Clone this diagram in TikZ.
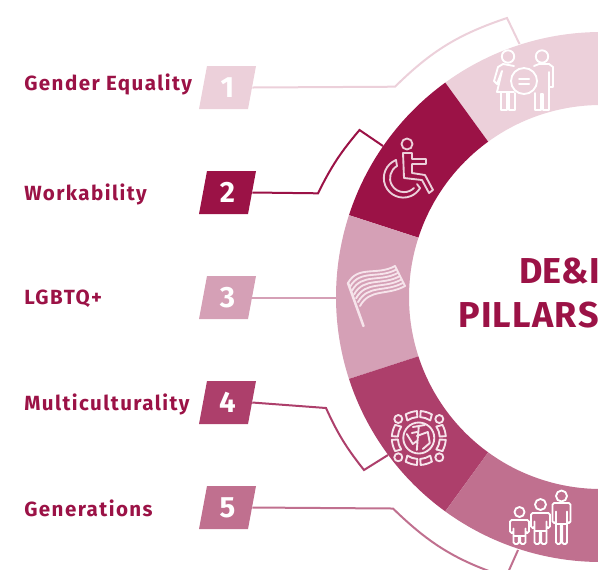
\documentclass[tikz,border=0pt]{standalone}
\usepackage{fontspec}
\setmainfont{Fira Sans}[LetterSpace=7]
\newfontfamily\titlefont{Fira Sans}[LetterSpace=0]
\newfontfamily\titlewide{Fira Sans}[LetterSpace=3.5]
\newfontfamily\numfont{Fira Sans}[LetterSpace=0]
\usetikzlibrary{calc}
\definecolor{cone}{HTML}{ECD0DA}
\definecolor{ctwo}{HTML}{9B1246}
\definecolor{cthree}{HTML}{D5A0B6}
\definecolor{cfour}{HTML}{AD3F6B}
\definecolor{cfive}{HTML}{C0708F}
\definecolor{cglyph}{HTML}{F6E4EB}
\tikzset{
  pillarlabel/.style={anchor=base west,inner sep=0pt,text=ctwo,font=\fontsize{15.4}{18}\selectfont\bfseries},
  pillartitle/.style={anchor=base west,inner sep=0pt,text=ctwo,font=\titlefont\fontsize{27}{30}\selectfont\bfseries},
  pillartitlewide/.style={anchor=base west,inner sep=0pt,text=ctwo,font=\titlewide\fontsize{27}{30}\selectfont\bfseries},
  numbox/.style={inner sep=0pt,minimum width=36.75pt,minimum height=32pt,text=white,font=\numfont\fontsize{22}{24}\selectfont\bfseries},
  link/.style={line width=1.5pt,line join=miter},
  icon/.style={line width=1.4pt,line cap=round,line join=round,draw=#1},
  icon/.default=white
}
\newcommand\ringseg[3]{\fill[#1] ($(C)+(#2:265)$) arc[start angle=#2,end angle=#3,radius=265] -- ($(C)+(#3:192)$) arc[start angle=#3,end angle=#2,radius=192] -- cycle;}
\newcommand\pillarbox[4]{%
  \fill[#3] (207,#2-21.5) -- (256,#2-21.5) -- (248,#2+21.5) -- (199,#2+21.5) -- cycle;
  \node[numbox] (#1) at (227.5,#2) {#4};}
\newcommand\person[8]{% cx headY headR shoulderY halfW armBottom hipY footY
  \draw (#1,#2) circle[radius=#3];
  \draw[rounded corners=1.2pt] (#1-#5+3.5,#8-0) -- (#1-#5+3.5,#4+7) -- (#1-#5+3.5,#6) -- (#1-#5,#6) -- (#1-#5,#4) -- (#1+#5,#4) -- (#1+#5,#6) -- (#1+#5-3.5,#6) -- (#1+#5-3.5,#4+7) -- (#1+#5-3.5,#8) -- (#1+.7,#8) -- (#1+.7,#7) -- (#1-.7,#7) -- (#1-.7,#8) -- cycle;
  \draw (#1-#5+3.5,#7) -- (#1+#5-3.5,#7);
}
\begin{document}
\begin{tikzpicture}[x=.75pt,y=.75pt,yscale=-1]
\useasboundingbox (0,0) rectangle (598,569);
\clip (0,0) rectangle (598,569);
\coordinate (C) at (601,297);
% ring
\ringseg{cone}{234}{300}
\ringseg{ctwo}{198}{234}
\ringseg{cthree}{162}{198}
\ringseg{cfour}{126}{162}
\ringseg{cfive}{70}{126}
% labelled boxes
\pillarbox{b1}{87.5}{cone}{1}
\pillarbox{b2}{192.5}{ctwo}{2}
\pillarbox{b3}{297.5}{cthree}{3}
\pillarbox{b4}{402.5}{cfour}{4}
\pillarbox{b5}{507.5}{cfive}{5}
% labels
\node[pillarlabel] (t1) at (24,90.7) {Gender Equality};
\node[pillarlabel] (t2) at (24,200) {Workability};
\node[pillarlabel] (t3) at (24,304) {LGBTQ+};
\node[pillarlabel] (t4) at (24,410.7) {Multiculturality};
\node[pillarlabel] (t5) at (24,516.7) {Generations};
\node[pillartitle] (title1) at (519,283) {DE\&I};
\node[pillartitlewide] (title2) at (458,327) {PILLARS};
% connector joints
\coordinate (j1a) at (395,86.7); \coordinate (j1b) at (507,18); \coordinate (j1c) at (519.5,44);
\coordinate (j2a) at (318,193.3); \coordinate (j2b) at (359.5,130); \coordinate (j2c) at (383,146);
\coordinate (j3c) at (337,297.5);
\coordinate (j4a) at (326,408); \coordinate (j4b) at (364,470); \coordinate (j4c) at (388,455);
\coordinate (j5a) at (393,508.5); \coordinate (j5b) at (506,577); \coordinate (j5c) at (518,550);
\draw[link,cone] (b1.east) -- (j1a) to[bend right=13] (j1b) -- (j1c);
\draw[link,ctwo] (b2.east) -- (j2a) to[bend right=7] (j2b) -- (j2c);
\draw[link,cthree] (b3.east) -- (j3c);
\draw[link,cfour] (b4.east) -- (j4a) to[bend left=7] (j4b) -- (j4c);
\draw[link,cfive] (b5.east) -- (j5a) to[bend left=13] (j5b) -- (j5c);
% icon 1
\begin{scope}[icon=white]
\draw (508,56.5) circle[radius=6.2];
\draw (542,56.5) circle[radius=6.2];
\draw (514,66) -- (503,64) -- (498,67) -- (494,81) -- (497,84) -- (502,71) -- (497,92) -- (514,92);
\draw (501,92) -- (501,110) -- (507,110) -- (507,93);
\draw (509,93) -- (509,110) -- (515,110) -- (515,93);
\draw (534,66) -- (539,64) -- (549,64) -- (553,67) -- (553,87) -- (549,87) -- (549,72);
\draw (535,93) -- (535,110) -- (541,110) -- (541,94) -- (543,94) -- (543,110) -- (549,110) -- (549,87);
\draw (524,81) circle[radius=13];
\draw[line width=1.5pt] (519,78.5) -- (529,78.5) (519,83.5) -- (529,83.5);
\end{scope}
% icon 2
\begin{scope}[icon=cone]
\draw (407,144) circle[radius=5.5];
\draw (403,153) -- (412,153) -- (412,159) -- (426,159) -- (426,164) -- (412,164) -- (412,173) -- (425,175) -- (433,190) -- (429,193) -- (422,180) -- (404,178) -- cycle;
\draw (396,160) arc[start angle=248,end angle=31,radius=19.5] -- ++(-3,-4);
\draw (397,166) arc[start angle=240,end angle=45,radius=14];
\draw (396,160) -- (397,166);
\end{scope}
% icon 3
\begin{scope}[icon=cglyph]
\draw[line width=1.9pt] (348,283) -- (363.5,326);
\foreach \t in {0,.167,.333,.5,.667,.833,1}
  \draw[line width=1.4pt] (348+12*\t,283+23*\t) .. controls +(10,-18) and +(-18,10) .. (395+10*\t,266+20*\t);
\draw (395,266) -- (405,286);
\end{scope}
% icon 4
\begin{scope}[icon=cglyph,shift={(418.8,438)}]
\foreach \x/\y in {-20.5/-19,20.5/-19,-20.5/19.3,20.5/19.3}
  \draw (\x,\y) circle[radius=4];
\foreach \a in {45,135,225,315}{
  \draw (\a+16:27) arc[start angle=\a+16,end angle=\a+41,radius=27];
  \draw (\a-16:27) arc[start angle=\a-16,end angle=\a-41,radius=27];
  \draw (\a+12:21) arc[start angle=\a+12,end angle=\a+41,radius=21];
  \draw (\a-12:21) arc[start angle=\a-12,end angle=\a-41,radius=21];
  \draw (\a+16:27) -- (\a+12:21) (\a-16:27) -- (\a-12:21);
  \draw (\a+41:27) -- (\a+41:21) (\a-41:27) -- (\a-41:21);
}
\draw (0,0) circle[radius=15.5];
\draw (-6,-11) -- (6,-13) (0,-12) -- (-2,12) (-2,-2) -- (9,-6) -- (11,5) -- (4,11) (-12,-4) -- (-6,6) -- (-2,3) (-7,-5) -- (-2,-6);
\end{scope}
% icon 5
\begin{scope}[icon=white]
\person{519.5}{512}{5}{520}{9.5}{533}{536}{544}
\person{540.5}{504.5}{5.5}{513}{9.5}{528}{531}{544}
\person{561.5}{496}{5.5}{503}{9}{523}{524}{544}
\end{scope}
\end{tikzpicture}
\end{document}
